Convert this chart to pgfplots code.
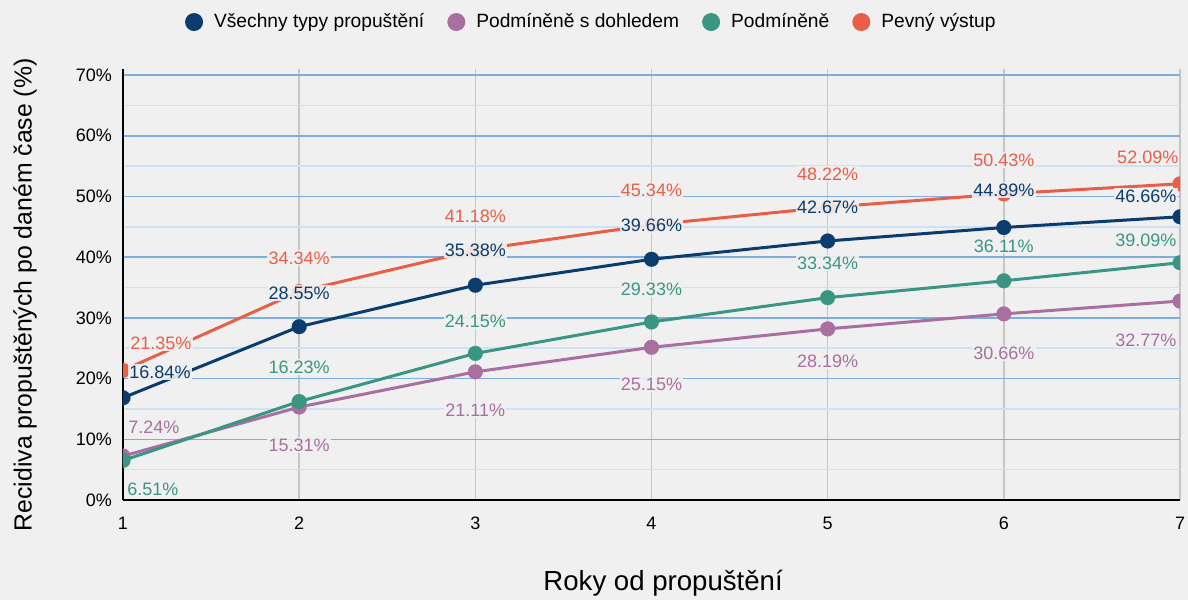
\documentclass[border=0pt]{standalone}
\usepackage{pgfplots}
\pgfplotsset{compat=1.18}
\usepackage{fontspec}
\setmainfont{Liberation Sans}

\definecolor{bgc}{HTML}{F0F0F0}
\definecolor{cAll}{HTML}{0B3C6E}
\definecolor{cSup}{HTML}{A86FA0}
\definecolor{cCond}{HTML}{3A9683}
\definecolor{cFix}{HTML}{E95E47}
\definecolor{gmaj}{HTML}{7EAEE0}
\definecolor{gmin}{HTML}{CFE2F3}

\tikzset{lbl/.style={font=\fontsize{9}{10}\selectfont, fill=bgc, fill opacity=0.9, text opacity=1, inner sep=0.6pt}}
% labels: colour, x, y (label centre in axis units), text
\newcommand{\lab}[4]{\node[lbl, text=#1] at (axis cs:#2,#3) {#4\%};}

\begin{document}
\begin{tikzpicture}[x=1pt,y=1pt]
\fill[bgc] (-61.5,-50) rectangle (532.5,250);
\begin{axis}[
    at={(0,0)}, anchor=south west,
    scale only axis,
    width=528.5pt, height=215.5pt,
    xmin=1, xmax=7,
    ymin=0, ymax=71,
    xtick={1,2,...,7},
    ytick={0,10,20,30,40,50,60,70},
    minor ytick={5,15,...,65},
    yticklabel={\pgfmathprintnumber{\tick}\%},
    /pgf/number format/assume math mode=true,
    tick label style={font=\fontsize{9}{11}\selectfont},
    major tick length=0pt, minor tick length=0pt,
    axis x line*=bottom, axis y line*=left,
    axis line style={black, line width=0.8pt, -},
    xmajorgrids, ymajorgrids, yminorgrids,
    major x grid style={draw=gray!45, line width=0.8pt},
    major y grid style={draw=gmaj, line width=0.8pt},
    minor y grid style={draw=gmin, line width=0.8pt},
    xticklabel style={yshift=-5pt},
    yticklabel style={xshift=-2pt},
    xlabel={Roky od propuštění},
    ylabel={Recidiva propuštěných po daném čase (\%)},
    every axis x label/.style={at={(axis description cs:0.511,-0.193)}, anchor=center,
        font=\fontsize{13.8}{16}\selectfont},
    every axis y label/.style={at={(axis description cs:-0.0927,0.476)}, rotate=90, anchor=center,
        font=\fontsize{12.4}{15}\selectfont},
    legend columns=4,
    legend style={draw=none, fill=none, at={(axis description cs:0.444,1.109)}, anchor=center,
        font=\fontsize{9.6}{12}\selectfont,
        /tikz/every even column/.append style={column sep=9.5pt}},
    legend image code/.code={\fill[draw=none] (0pt,0pt) circle (4.5pt); \path[draw=none,fill=none] (-4.5pt,0pt) -- (8pt,0pt);},
    clip marker paths=true,
    every axis plot/.append style={line width=1.5pt, mark=*, mark size=3.7pt, mark options={line width=0.1pt}},
]
\addplot[color=cAll] coordinates {(1,16.84) (2,28.55) (3,35.38) (4,39.66) (5,42.67) (6,44.89) (7,46.66)};
\addlegendentry{Všechny typy propuštění}
\addplot[color=cSup] coordinates {(1,7.24) (2,15.31) (3,21.11) (4,25.15) (5,28.19) (6,30.66) (7,32.77)};
\addlegendentry{Podmíněně s dohledem}
\addplot[color=cCond] coordinates {(1,6.51) (2,16.23) (3,24.15) (4,29.33) (5,33.34) (6,36.11) (7,39.09)};
\addlegendentry{Podmíněně}
\addplot[color=cFix] coordinates {(1,21.35) (2,34.34) (3,41.18) (4,45.34) (5,48.22) (6,50.43) (7,52.09)};
\addlegendentry{Pevný výstup}

\lab{cAll}{1.21}{21.09}{16.84}
\lab{cAll}{2}{34.1}{28.55}
\lab{cAll}{3}{41.19}{35.38}
\lab{cAll}{4}{45.3}{39.66}
\lab{cAll}{5}{48.27}{42.67}
\lab{cAll}{6}{51.07}{44.89}
\lab{cAll}{6.806}{50.08}{46.66}

\lab{cFix}{1.215}{25.87}{21.35}
\lab{cFix}{2}{39.87}{34.34}
\lab{cFix}{3}{46.79}{41.18}
\lab{cFix}{4}{51.07}{45.34}
\lab{cFix}{5}{53.71}{48.22}
\lab{cFix}{6}{56.01}{50.43}
\lab{cFix}{6.817}{56.51}{52.09}

\lab{cCond}{1.17}{1.81}{6.51}
\lab{cCond}{2}{21.91}{16.23}
\lab{cCond}{3}{29.49}{24.15}
\lab{cCond}{4}{34.76}{29.33}
\lab{cCond}{5}{39.04}{33.34}
\lab{cCond}{6}{41.85}{36.11}
\lab{cCond}{6.806}{42.83}{39.09}

\lab{cSup}{1.175}{12.03}{7.24}
\lab{cSup}{2}{9.06}{15.31}
\lab{cSup}{3}{14.83}{21.11}
\lab{cSup}{4}{19.11}{25.15}
\lab{cSup}{5}{22.9}{28.19}
\lab{cSup}{6}{24.22}{30.66}
\lab{cSup}{6.806}{26.36}{32.77}
\end{axis}
\pgfresetboundingbox
\path[use as bounding box] (-61.5,-50) rectangle (532.5,250);
\end{tikzpicture}
\end{document}
